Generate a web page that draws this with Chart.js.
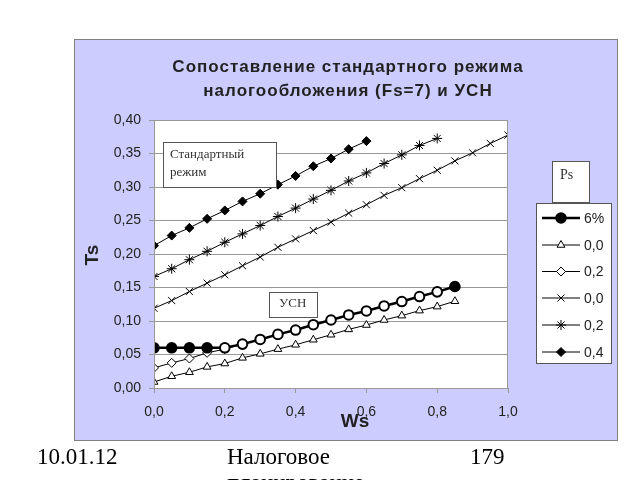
<!DOCTYPE html>
<html>
<head>
<meta charset="utf-8">
<script src="https://cdn.jsdelivr.net/npm/chart.js@4/dist/chart.umd.min.js"></script>
<style>
  html, body { margin: 0; padding: 0; background: #fff; }
  #wrap { position: relative; width: 640px; height: 480px; }
</style>
</head>
<body>
<div id="wrap"><canvas id="taxChart" width="640" height="480"></canvas></div>
<script>
// Ws values (x axis)
let ws = [0, 0.05, 0.1, 0.15, 0.2, 0.25, 0.3, 0.35, 0.4, 0.45, 0.5,
          0.55, 0.6, 0.65, 0.7, 0.75, 0.8, 0.85, 0.9, 0.95, 1.0];

// USN series
let usn6 = [0.060, 0.060, 0.060, 0.060, 0.060, 0.0655, 0.0725, 0.080, 0.0865,
            0.0945, 0.1015, 0.109, 0.115, 0.1225, 0.129, 0.1365, 0.1435, 0.1515];
let usn00 = [0.009, 0.0175, 0.0235, 0.0315, 0.0365, 0.045, 0.051, 0.058, 0.0645,
             0.072, 0.0795, 0.0875, 0.094, 0.1015, 0.108, 0.1155, 0.1215, 0.1295];
let usn02 = [0.030, 0.0375, 0.044, 0.0525, 0.058, 0.0655, 0.0725, 0.080, 0.0865,
             0.0945, 0.1015, 0.109, 0.115, 0.1225, 0.129, 0.1365, 0.1435];

// standard regime series
let std00 = [0.119, 0.1305, 0.144, 0.1565, 0.169, 0.1825, 0.1955, 0.21, 0.2225,
             0.235, 0.2475, 0.261, 0.2735, 0.2875, 0.299, 0.3125, 0.325, 0.339,
             0.351, 0.365, 0.3775];
let std02 = [0.1665, 0.178, 0.1915, 0.204, 0.2175, 0.23, 0.2425, 0.256, 0.2685,
             0.282, 0.295, 0.309, 0.321, 0.335, 0.348, 0.362, 0.3725];
let std04 = [0.2125, 0.2275, 0.239, 0.2525, 0.265, 0.2785, 0.29, 0.3035, 0.3165,
             0.331, 0.3425, 0.3565, 0.3685];

let legendLabels = ["6%", "0,0", "0,2", "0,0", "0,2", "0,4"];
let yTicks = [0, 0.05, 0.1, 0.15, 0.2, 0.25, 0.3, 0.35, 0.4];
let xTicks = [0, 0.2, 0.4, 0.6, 0.8, 1.0];

function toPoints(values) {
  return values.map(function (v, i) {
    return { x: ws[i], y: v };
  });
}

// circles of the 6% line look hollow where the 0,2 line runs under them
let usn6Fill = usn6.map(function (v, i) {
  return (i < 4 || i === usn6.length - 1) ? "#000" : "#fff";
});

const SANS = "'Liberation Sans', Arial, sans-serif";
const SERIF = "'Liberation Serif', 'Times New Roman', serif";

// Panel background, white plot area, boxes and texts
const decor = {
  id: "decor",
  beforeDraw(chart) {
    let ctx = chart.ctx;
    let a = chart.chartArea;
    ctx.save();
    ctx.fillStyle = "#ccccff";
    ctx.fillRect(74, 39, 543, 401);
    ctx.strokeStyle = "#808080";
    ctx.lineWidth = 1;
    ctx.strokeRect(74.5, 39.5, 543, 401);
    ctx.fillStyle = "#fff";
    ctx.fillRect(a.left, a.top, a.right - a.left, a.bottom - a.top);
    ctx.restore();
  },
  afterDatasetsDraw(chart) {
    let ctx = chart.ctx;
    let a = chart.chartArea;
    ctx.save();
    ctx.strokeStyle = "#999";
    ctx.lineWidth = 1;
    ctx.strokeRect(a.left + 0.5, a.top + 0.5, a.right - a.left - 1, a.bottom - a.top);
    ctx.restore();
  },
  afterDraw(chart) {
    let ctx = chart.ctx;
    ctx.save();

    // title
    ctx.fillStyle = "#222";
    ctx.textAlign = "center";
    ctx.textBaseline = "middle";
    ctx.font = "bold 17px " + SANS;
    ctx.letterSpacing = "1px";
    ctx.fillText("Сопоставление стандартного режима", 348, 67);
    ctx.fillText("налогообложения (Fs=7) и УСН", 348, 91);
    ctx.letterSpacing = "0px";

    // axis titles
    ctx.font = "bold 19px " + SANS;
    ctx.fillText("Ws", 355, 422);
    ctx.save();
    ctx.translate(93, 255);
    ctx.rotate(-Math.PI / 2);
    ctx.fillText("Ts", 0, 0);
    ctx.restore();

    // text boxes
    function box(x, y, w, h) {
      ctx.fillStyle = "#fff";
      ctx.fillRect(x, y, w, h);
      ctx.strokeStyle = "#555";
      ctx.lineWidth = 1;
      ctx.strokeRect(x + 0.5, y + 0.5, w, h);
    }
    box(163, 142, 113, 45);
    box(269, 292, 48, 25);
    box(552, 161, 37, 41);
    ctx.fillStyle = "#333";
    ctx.font = "13px " + SERIF;
    ctx.textAlign = "left";
    ctx.fillText("Стандартный", 170, 155);
    ctx.fillText("режим", 170, 173);
    ctx.fillText("УСН", 279, 304);
    ctx.font = "14px " + SERIF;
    ctx.fillText("Ps", 560, 175);

    // legend
    box(536, 203, 75, 160);
    let rowY = [218, 245, 271.5, 298, 325, 352];
    ctx.font = "14px " + SANS;
    ctx.textBaseline = "middle";
    chart.data.datasets.forEach(function (ds, i) {
      let y = rowY[i];
      ctx.strokeStyle = "#000";
      ctx.lineWidth = ds.borderWidth;
      ctx.beginPath();
      ctx.moveTo(542, y);
      ctx.lineTo(580, y);
      ctx.stroke();
      ctx.fillStyle = i === 0 ? "#000" : (Array.isArray(ds.pointBackgroundColor) ? "#000" : ds.pointBackgroundColor);
      ctx.strokeStyle = "#000";
      ctx.lineWidth = ds.pointBorderWidth;
      if (Chart.helpers && Chart.helpers.drawPoint) {
        Chart.helpers.drawPoint(ctx, {
          pointStyle: ds.pointStyle,
          radius: ds.pointRadius,
          borderWidth: ds.pointBorderWidth,
          rotation: 0
        }, 561, y);
      }
      ctx.fillStyle = "#222";
      ctx.fillText(legendLabels[i], 584, y + 1);
    });

    // slide footer
    ctx.fillStyle = "#000";
    ctx.font = "23px " + SERIF;
    ctx.textBaseline = "alphabetic";
    ctx.fillText("10.01.12", 37, 464);
    ctx.fillText("Налоговое", 227, 464);
    ctx.fillText("179", 470, 464);
    ctx.fillText("планирование", 227, 490);
    ctx.restore();
  }
};

try {
  let ctx = document.getElementById("taxChart").getContext("2d");

  new Chart(ctx, {
    type: "line",
    data: {
      datasets: [
        {
          label: legendLabels[0],
          data: toPoints(usn6),
          borderColor: "#000",
          borderWidth: 2.5,
          pointStyle: "circle",
          pointRadius: 4.8,
          pointBorderWidth: 2,
          pointBackgroundColor: usn6Fill,
          pointBorderColor: "#000",
          order: 0
        },
        {
          label: legendLabels[1],
          data: toPoints(usn00),
          borderColor: "#000",
          borderWidth: 1,
          pointStyle: "triangle",
          pointRadius: 4.5,
          pointBorderWidth: 1,
          pointBackgroundColor: "#fff",
          pointBorderColor: "#000",
          order: 1
        },
        {
          label: legendLabels[2],
          data: toPoints(usn02),
          borderColor: "#000",
          borderWidth: 1,
          pointStyle: "rectRot",
          pointRadius: 4.5,
          pointBorderWidth: 1,
          pointBackgroundColor: "#fff",
          pointBorderColor: "#000",
          order: 1
        },
        {
          label: legendLabels[3],
          data: toPoints(std00),
          borderColor: "#000",
          borderWidth: 1,
          pointStyle: "crossRot",
          pointRadius: 5,
          pointBorderWidth: 1,
          pointBackgroundColor: "#000",
          pointBorderColor: "#000",
          order: 1
        },
        {
          label: legendLabels[4],
          data: toPoints(std02),
          borderColor: "#000",
          borderWidth: 1,
          pointStyle: "star",
          pointRadius: 5,
          pointBorderWidth: 1,
          pointBackgroundColor: "#000",
          pointBorderColor: "#000",
          order: 1
        },
        {
          label: legendLabels[5],
          data: toPoints(std04),
          borderColor: "#000",
          borderWidth: 1,
          pointStyle: "rectRot",
          pointRadius: 4.5,
          pointBorderWidth: 1,
          pointBackgroundColor: "#000",
          pointBorderColor: "#000",
          order: 1
        }
      ]
    },
    options: {
      responsive: false,
      animation: false,
      events: [],
      layout: { padding: { left: 80, top: 120, right: 132, bottom: 52 } },
      plugins: {
        legend: { display: false },
        title: { display: false },
        tooltip: { enabled: false }
      },
      elements: { line: { tension: 0 } },
      scales: {
        x: {
          type: "linear",
          min: 0,
          max: 1,
          afterFit(scale) { scale.height = 40; },
          afterBuildTicks(scale) {
            scale.ticks = xTicks.map(function (v) { return { value: v }; });
          },
          grid: {
            drawOnChartArea: false,
            drawTicks: true,
            tickLength: 5,
            color: "#999"
          },
          border: { display: false },
          ticks: {
            padding: 11,
            color: "#222",
            font: { family: SANS, size: 14 },
            callback: function (v) { return v.toFixed(1).replace(".", ","); }
          }
        },
        y: {
          min: 0,
          max: 0.4,
          afterFit(scale) { scale.width = 74; },
          afterBuildTicks(scale) {
            scale.ticks = yTicks.map(function (v) { return { value: v }; });
          },
          grid: {
            drawTicks: true,
            tickLength: 5,
            color: "#999"
          },
          border: { display: false },
          ticks: {
            padding: 8,
            color: "#222",
            font: { family: SANS, size: 14 },
            callback: function (v) { return v.toFixed(2).replace(".", ","); }
          }
        }
      }
    },
    plugins: [decor]
  });
} catch (error) {
  console.log("while creating the chart:", error);
}
</script>
</body>
</html>
